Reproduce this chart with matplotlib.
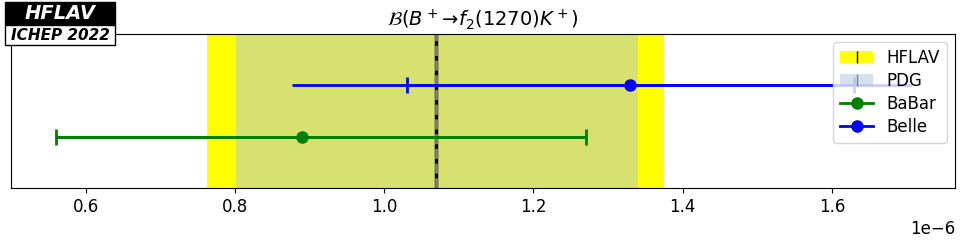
import matplotlib
matplotlib.use("Agg")
import matplotlib.pyplot as plt
from matplotlib.patches import Patch, Rectangle
from matplotlib.lines import Line2D

scale = 1e-6
# averages: central value, lower error, upper error
hflav = [1.07, 0.308, 0.305]
pdg = [1.07, 0.268, 0.270]
# measurements
experiments = ["BaBar", "Belle"]
values = [0.89, 1.33]
stat_lo = [0.33, 0.30]
stat_hi = [0.38, 0.30]
tot_lo = [0.33, 0.453]
tot_hi = [0.38, 0.378]
ypos = [0, 1]
colors = ["green", "blue"]

fig = plt.figure(figsize=(9.6, 2.4), dpi=100)
ax = fig.add_axes([0.0115, 0.2167, 0.9833, 0.6413])

ax.axvspan((hflav[0] - hflav[1]) * scale, (hflav[0] + hflav[2]) * scale, color="yellow", lw=0)
ax.axvline(hflav[0] * scale, color="black", lw=2.5)
ax.axvspan((pdg[0] - pdg[1]) * scale, (pdg[0] + pdg[2]) * scale, color="lightsteelblue", alpha=0.5, lw=0)
ax.axvline(pdg[0] * scale, color="grey", lw=2, ls="--")

handles = []
for name, v, sl, sh, tl, th, y, c in zip(experiments, values, stat_lo, stat_hi, tot_lo, tot_hi, ypos, colors):
    ax.errorbar([v * scale], [y], xerr=[[tl * scale], [th * scale]], fmt="none", ecolor=c, elinewidth=2, capsize=0)
    ax.errorbar([v * scale], [y], xerr=[[sl * scale], [sh * scale]], fmt="o", color=c, ecolor=c,
                elinewidth=2, capsize=6, capthick=2, markersize=8)
    handles.append(Line2D([], [], color=c, lw=2, marker="o", markersize=8))

ax.set_xlim(0.5e-6, 1.765e-6)
ax.set_ylim(-1, 2)
ax.set_yticks([])
ax.tick_params(axis="x", labelsize=12)
ax.xaxis.get_offset_text().set_fontsize(12)
ax.set_title(r"$\mathcal{B}(B^+\!\to\!f_2(1270)K^+)$", fontsize=14)

h_hflav = (Patch(facecolor="yellow"), Line2D([], [], color="black", marker="|", ls="none", markersize=8))
h_pdg = (Patch(facecolor="lightsteelblue", alpha=0.5), Line2D([], [], color="grey", marker="|", ls="none", markersize=8))
ax.legend([h_hflav, h_pdg] + handles, ["HFLAV", "PDG"] + experiments, loc="upper right", fontsize=12,
          labelspacing=0.3)

# logo boxes
fig.patches.append(Rectangle((5 / 960, 1 - 25 / 240), 110 / 960, 23 / 240, transform=fig.transFigure,
                             facecolor="black", edgecolor="black", lw=1))
fig.patches.append(Rectangle((5 / 960, 1 - 45 / 240), 110 / 960, 20 / 240, transform=fig.transFigure,
                             facecolor="white", edgecolor="black", lw=1))
fig.text(60 / 960, 1 - 13.5 / 240, "HFLAV", color="white", fontsize=14, fontweight="bold", fontstyle="italic",
         ha="center", va="center")
fig.text(60 / 960, 1 - 35.5 / 240, "ICHEP 2022", color="black", fontsize=11, fontweight="bold", fontstyle="italic",
         ha="center", va="center")

fig.savefig("out.png", dpi=100)
